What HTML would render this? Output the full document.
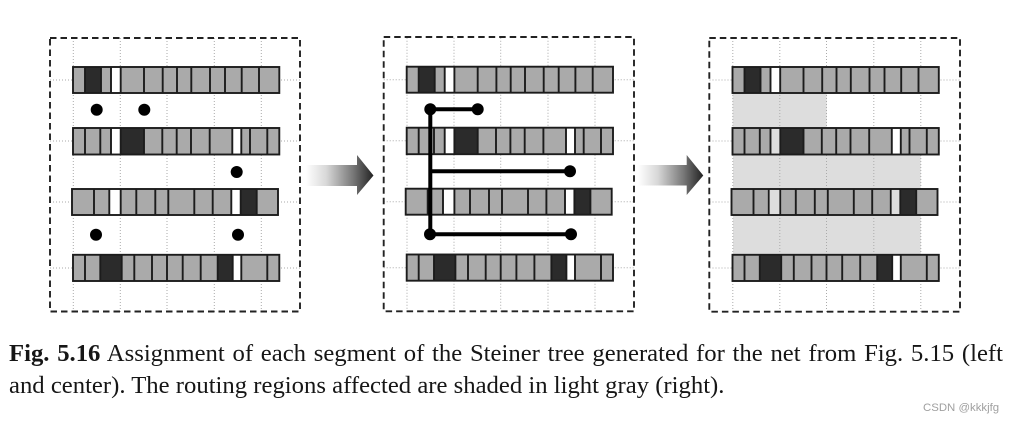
<!DOCTYPE html>
<html>
<head>
<meta charset="utf-8">
<style>
html,body{margin:0;padding:0;background:#fff}
#w{position:relative;width:1013px;height:424px;overflow:hidden;background:#fff}
svg{position:absolute;left:0;top:0}
.t{position:absolute;left:9px;font-family:"Liberation Serif",serif;font-size:24.7px;line-height:30px;color:#161616;white-space:nowrap}
#l1{top:339px;width:994px;white-space:normal;text-align:justify;text-align-last:justify}
#l2{top:370.5px}
#wm{position:absolute;left:923px;top:400px;font-family:"Liberation Sans",sans-serif;font-size:11.4px;line-height:16px;color:#a0a0a0;white-space:nowrap}
</style>
</head>
<body>
<div id="w">
<svg width="1013" height="424" viewBox="0 0 1013 424" xmlns="http://www.w3.org/2000/svg">
<defs>
<linearGradient id="g1" x1="0" x2="1" y1="0" y2="0"><stop offset="0" stop-color="#fff"/><stop offset="0.3" stop-color="#d8d8d8"/><stop offset="0.7" stop-color="#777"/><stop offset="1" stop-color="#222"/></linearGradient>
<g id="grid" fill="none" stroke="#aaa" stroke-width="1" stroke-dasharray="1 2">
<path d="M73.3 38V312M120.3 38V312M167 38V312M214.3 38V312M261.3 38V312"/>
<path d="M50 80H300M50 141H300M50 202H300M50 268H300"/>
</g>
<g id="r1">
<rect x="73" y="67" width="206.3" height="26" fill="#aaa"/>
<rect x="85" y="67" width="16" height="26" fill="#2b2b2b"/>
<rect x="111" y="67" width="9.7" height="26" fill="#fff"/>
<path d="M85 67V93M101 67V93M111 67V93M120.7 67V93M144 67V93M162.7 67V93M177 67V93M191.3 67V93M210 67V93M225 67V93M241.7 67V93M259 67V93" stroke="#1c1c1c" stroke-width="1.9" fill="none"/>
<rect x="73" y="67" width="206.3" height="26" fill="none" stroke="#1c1c1c" stroke-width="1.9"/>
</g>
<g id="r2">
<rect x="73" y="128" width="206.3" height="26.5" fill="#aaa"/>
<rect x="111" y="128" width="9.7" height="26.5" fill="#fff"/>
<rect x="120.7" y="128" width="23.3" height="26.5" fill="#2b2b2b"/>
<rect x="232.3" y="128" width="9" height="26.5" fill="#fff"/>
<path d="M85 128V154.5M100.3 128V154.5M111 128V154.5M120.7 128V154.5M144 128V154.5M162.3 128V154.5M176.7 128V154.5M191 128V154.5M209.7 128V154.5M232.3 128V154.5M241.3 128V154.5M250 128V154.5M267.3 128V154.5" stroke="#1c1c1c" stroke-width="1.9" fill="none"/>
<rect x="73" y="128" width="206.3" height="26.5" fill="none" stroke="#1c1c1c" stroke-width="1.9"/>
</g>
<g id="r3">
<rect x="72" y="189" width="206" height="26" fill="#aaa"/>
<rect x="109.3" y="189" width="11.4" height="26" fill="#fff"/>
<rect x="231.3" y="189" width="9.4" height="26" fill="#fff"/>
<rect x="240.7" y="189" width="16" height="26" fill="#2b2b2b"/>
<path d="M94 189V215M109.3 189V215M120.7 189V215M136.3 189V215M155.3 189V215M168.3 189V215M194.3 189V215M212.7 189V215M231.3 189V215M240.7 189V215M256.7 189V215" stroke="#1c1c1c" stroke-width="1.9" fill="none"/>
<rect x="72" y="189" width="206" height="26" fill="none" stroke="#1c1c1c" stroke-width="1.9"/>
</g>
<g id="r4">
<rect x="73" y="254.8" width="206.3" height="26.2" fill="#aaa"/>
<rect x="100.3" y="254.8" width="21.4" height="26.2" fill="#2b2b2b"/>
<rect x="217.7" y="254.8" width="15" height="26.2" fill="#2b2b2b"/>
<rect x="232.7" y="254.8" width="8.6" height="26.2" fill="#fff"/>
<path d="M85 254.8V281M100.3 254.8V281M121.7 254.8V281M134.3 254.8V281M152 254.8V281M167 254.8V281M182.7 254.8V281M200.7 254.8V281M217.7 254.8V281M232.7 254.8V281M241.3 254.8V281M267.3 254.8V281" stroke="#1c1c1c" stroke-width="1.9" fill="none"/>
<rect x="73" y="254.8" width="206.3" height="26.2" fill="none" stroke="#1c1c1c" stroke-width="1.9"/>
</g>
</defs>

<!-- Panel 1 -->
<use href="#grid"/>
<rect x="50" y="38" width="250" height="273.5" fill="none" stroke="#222" stroke-width="1.9" stroke-dasharray="6.5 4"/>
<use href="#r1"/><use href="#r2"/><use href="#r3"/><use href="#r4"/>
<g fill="#000">
<circle cx="96.7" cy="109.7" r="6"/><circle cx="144.3" cy="109.7" r="6"/><circle cx="236.7" cy="172" r="6"/><circle cx="96" cy="234.7" r="6"/><circle cx="238" cy="234.7" r="6"/>
</g>

<!-- Arrow 1 -->
<path d="M306 165H357V155L373.5 175.5L357 195V186H306Z" fill="url(#g1)"/>

<!-- Panel 2 -->
<g transform="translate(333.7 -0.3)">
<use href="#grid"/>
<use href="#r1"/><use href="#r2"/><use href="#r3"/><use href="#r4"/>
</g>
<rect x="383.7" y="37" width="250.3" height="274.3" fill="none" stroke="#222" stroke-width="1.9" stroke-dasharray="6.5 4"/>
<g stroke="#000" stroke-width="4" fill="none">
<path d="M430.3 109.3V234.3M430.3 109.3H477.7M430.3 171.3H570M430.3 234.3H571"/>
</g>
<g fill="#000">
<circle cx="430.3" cy="109.3" r="6"/><circle cx="477.7" cy="109.3" r="6"/><circle cx="570" cy="171.3" r="6"/><circle cx="430" cy="234.3" r="6"/><circle cx="571" cy="234.3" r="6"/>
</g>

<!-- Arrow 2 -->
<path d="M638 165H686.7V155L703.3 175.5L686.7 195V185.5H638Z" fill="url(#g1)"/>

<!-- Panel 3 -->
<rect x="732.7" y="93" width="94" height="35" fill="#ddd"/>
<rect x="733" y="155" width="187.7" height="100" fill="#ddd"/>
<g transform="translate(659.5 0)">
<use href="#grid"/>
<use href="#r1"/><use href="#r2"/><use href="#r3"/><use href="#r4"/>
<rect x="112" y="129" width="7.7" height="24.5" fill="#ddd"/>
<rect x="110.3" y="190" width="9.4" height="24" fill="#ddd"/>
<rect x="232.3" y="190" width="7.4" height="24" fill="#ddd"/>
</g>
<rect x="709.3" y="38" width="250.7" height="273.7" fill="none" stroke="#222" stroke-width="1.9" stroke-dasharray="6.5 4"/>
</svg>
<div class="t" id="l1"><b>Fig. 5.16</b> Assignment of each segment of the Steiner tree generated for the net from Fig. 5.15 (left</div>
<div class="t" id="l2">and center). The routing regions affected are shaded in light gray (right).</div>
<div id="wm">CSDN @kkkjfg</div>
</div>
</body>
</html>
